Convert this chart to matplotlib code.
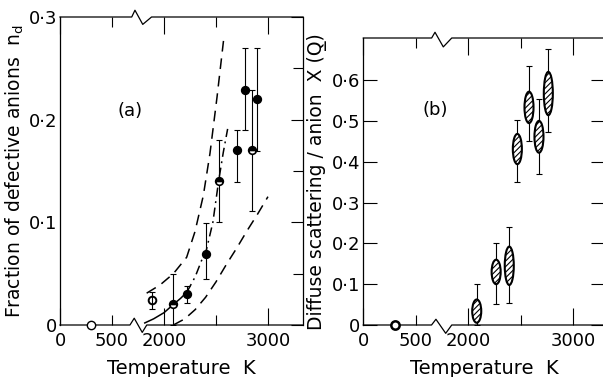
import numpy as np
import matplotlib
matplotlib.use("Agg")
import matplotlib.pyplot as plt
from matplotlib.patches import Ellipse

plt.rcParams['font.family'] = ['DejaVu Sans']
plt.rcParams['hatch.linewidth'] = 0.8

# DATA
# panel (a): fraction of defective anions
T_room, nd_room = [300], [0.0]
T_a = [1880, 2090, 2220, 2405, 2525, 2700, 2775, 2844, 2895]
nd_a = [0.024, 0.020, 0.030, 0.069, 0.140, 0.170, 0.229, 0.170, 0.220]
nd_hi = [0.032, 0.050, 0.038, 0.099, 0.180, 0.190, 0.270, 0.229, 0.270]
nd_lo = [0.016, 0.000, 0.021, 0.045, 0.100, 0.139, 0.190, 0.111, 0.169]
fill_a = ['none', 'top', 'full', 'full', 'top', 'full', 'full', 'top', 'full']

# model curves
T_up = [1833, 1962, 2090, 2218, 2298, 2378, 2442, 2510, 2577]
nd_up = [0.031, 0.039, 0.050, 0.066, 0.091, 0.126, 0.167, 0.222, 0.281]
T_fit = [1815, 1900, 2000, 2090, 2160, 2220]
nd_fit = [0.002, 0.006, 0.012, 0.020, 0.026, 0.032]
T_ext = [2220, 2300, 2362, 2405, 2470, 2525, 2570, 2612]
nd_ext = [0.032, 0.047, 0.063, 0.072, 0.100, 0.140, 0.168, 0.191]
T_low = [2090, 2200, 2300, 2400, 2500, 2600, 2700, 2800, 2900, 3000]
nd_low = [0.0, 0.006, 0.015, 0.027, 0.042, 0.059, 0.075, 0.092, 0.108, 0.125]

# panel (b): diffuse scattering per anion
T_b = [2080, 2265, 2390, 2467, 2578, 2673, 2762]
X_b = [0.034, 0.130, 0.145, 0.431, 0.533, 0.461, 0.567]
X_h = [0.057, 0.060, 0.094, 0.074, 0.077, 0.078, 0.106]
X_hi = [0.100, 0.200, 0.241, 0.502, 0.634, 0.553, 0.675]
X_lo = [0.000, 0.051, 0.055, 0.351, 0.451, 0.371, 0.473]

# broken temperature axis: 800-1800 K squeezed out
GAP_LO, GAP_HI, EPS = 800.0, 1800.0, 0.5


def fwd(t):
    t = np.asarray(t, dtype=float)
    return np.where(t <= GAP_LO, t,
                    np.where(t >= GAP_HI, t - (GAP_HI - GAP_LO) + EPS,
                             GAP_LO + (t - GAP_LO) * EPS / (GAP_HI - GAP_LO)))


def inv(x):
    x = np.asarray(x, dtype=float)
    return np.where(x <= GAP_LO, x,
                    np.where(x >= GAP_LO + EPS, x + (GAP_HI - GAP_LO) - EPS,
                             GAP_LO + (x - GAP_LO) * (GAP_HI - GAP_LO) / EPS))


W, H = 603, 377
fig = plt.figure(figsize=(W / 100, H / 100), dpi=100)
ax_a = fig.add_axes([60 / W, (H - 325) / H, 243 / W, 308 / H])
ax_b = fig.add_axes([363.3 / W, (H - 325) / H, 241.5 / W, 287 / H])


def style_axis(ax, xmax, top_zig, bot_zig, up, dn_top, dn_bot, lab_y):
    ax.set_xscale('function', functions=(fwd, inv))
    ax.set_xlim(0, xmax)
    ax.spines['top'].set_visible(False)
    ax.spines['bottom'].set_visible(False)
    for s in ax.spines.values():
        s.set_linewidth(0.9)
    tr = ax.get_xaxis_transform()
    xs_t = [0] + top_zig + [xmax]
    ys_t = [1, 1, 1 + up, 1 - dn_top, 1, 1]
    xs_b = [0] + bot_zig + [xmax]
    ys_b = [0, 0, up, -dn_bot, 0, 0]
    ax.plot(xs_t, ys_t, color='k', lw=0.9, transform=tr, clip_on=False)
    ax.plot(xs_b, ys_b, color='k', lw=0.9, transform=tr, clip_on=False)
    ax.set_xticks([0, 2000, 3000], labels=['0', '2000', '3000'])
    ax.set_xticks([500, 2500], labels=['500', ''], minor=True)
    ax.tick_params(axis='x', which='both', direction='in', top=True, bottom=True,
                   labelsize=13, pad=5, width=0.8)
    ax.tick_params(axis='x', which='major', length=12)
    ax.tick_params(axis='x', which='minor', length=7)
    ax.set_xlabel('Temperature  K', fontsize=14)
    ax.xaxis.set_label_coords(0.5, lab_y)


# PANEL (a)
ax = ax_a
style_axis(ax, 3337, [690, 721, 796, 1880], [673, 714, 791, 1834], 0.022, 0.024, 0.024, -0.11)
ax.set_ylim(0, 0.3)
ax.set_yticks([0, 0.1, 0.2, 0.3], labels=['0', '0·1', '0·2', '0·3'])
ax.set_yticks([0.05, 0.15, 0.25], minor=True)
ax.tick_params(axis='y', which='both', direction='in', left=False, right=True,
               labelsize=13, pad=2, width=0.8)
ax.tick_params(axis='y', which='major', length=9)
ax.tick_params(axis='y', which='minor', length=7)
ax.set_ylabel('Fraction of defective anions  n$_\\mathrm{d}$', fontsize=13.5)
ax.yaxis.set_label_coords(-0.14, 0.5)

ax.plot(T_up, nd_up, color='k', lw=1.1, dashes=(7, 4.5))
ax.plot(T_fit, nd_fit, color='k', lw=1.1)
ax.plot(T_ext, nd_ext, color='k', lw=1.1, dashes=(6, 3, 1.2, 3))
ax.plot(T_low, nd_low, color='k', lw=1.1, dashes=(7, 4.5))

ax.errorbar(T_a, nd_a, yerr=[np.subtract(nd_a, nd_lo), np.subtract(nd_hi, nd_a)],
            fmt='none', ecolor='k', elinewidth=0.8, capsize=2.5, capthick=0.8)
for t, v, fs in zip(T_a, nd_a, fill_a):
    if fs == 'none':
        ax.plot(t, v, 'o', ms=5.5, mfc='none', mec='k', mew=1.4)
    else:
        ax.plot(t, v, 'o', ms=5.5, fillstyle=fs, mfc='k', mfcalt='white', mec='k', mew=1.2)
ax.plot(T_room, nd_room, 'o', ms=6, mfc='white', mec='k', mew=1.0, clip_on=False, zorder=5)
ax.text(673, 0.208, '(a)', fontsize=13, ha='center', va='center')

# PANEL (b)
ax = ax_b
style_axis(ax, 3300, [651, 683, 762, 1842], [650, 692, 785, 1842], 0.02, 0.031, 0.029, -0.118)
ax.set_ylim(0, 0.703)
ax.set_yticks([0, 0.1, 0.2, 0.3, 0.4, 0.5, 0.6],
              labels=['0', '0·1', '0·2', '0·3', '0·4', '0·5', '0·6'])
ax.tick_params(axis='y', which='both', direction='in', left=True, right=True,
               labelsize=13, pad=2, width=0.8, length=10)
ax.set_ylabel('Diffuse scattering / anion  X (Q\u0332)', fontsize=13.5)
ax.yaxis.set_label_coords(-0.15, 0.5)

ax.errorbar(T_b, X_b, yerr=[np.subtract(X_b, X_lo), np.subtract(X_hi, X_b)],
            fmt='none', ecolor='k', elinewidth=0.8, capsize=2.5, capthick=0.8, zorder=2)
for t, v, h in zip(T_b, X_b, X_h):
    ax.add_patch(Ellipse((t, v), 86, h, facecolor='white', edgecolor='k',
                         lw=1.5, hatch='//////', zorder=3))
ax.plot(T_room, [0], 'o', ms=6, mfc='white', mec='k', mew=1.8, clip_on=False, zorder=5)
ax.text(683, 0.527, '(b)', fontsize=13, ha='center', va='center')

fig.savefig('out.png', dpi=100)
